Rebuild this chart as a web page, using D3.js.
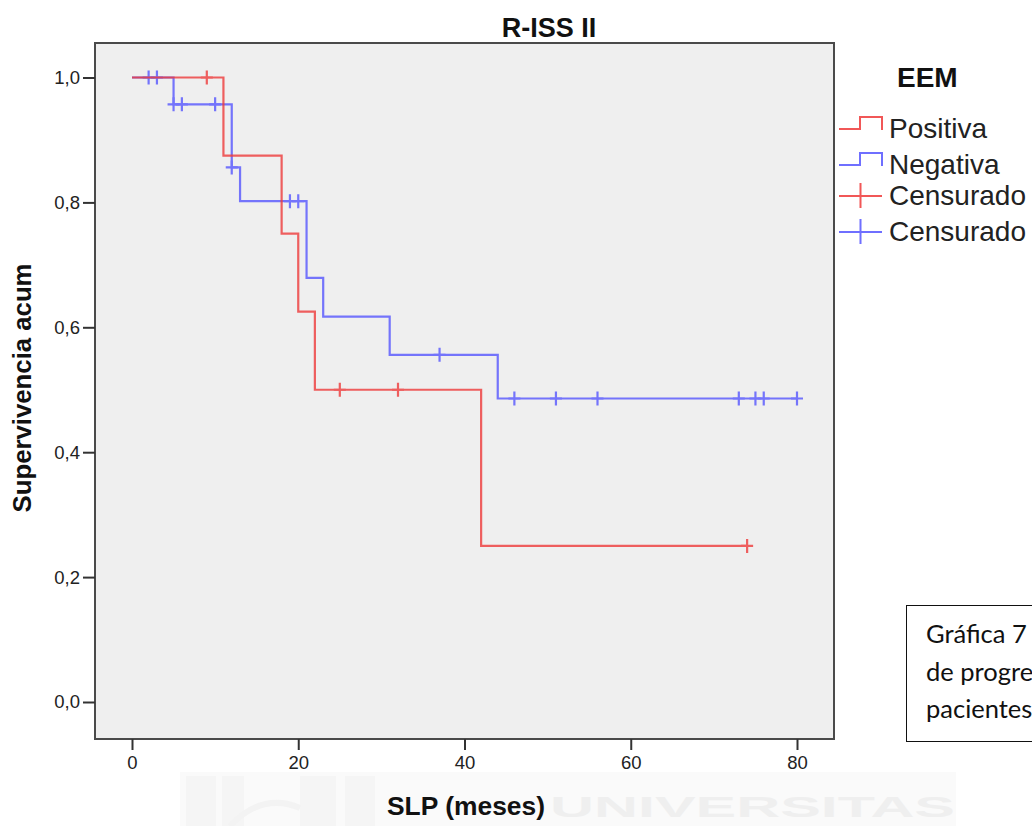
<!DOCTYPE html>
<html>
<head>
<meta charset="utf-8">
<script src="https://cdn.jsdelivr.net/npm/d3@7"></script>
<style>
  html, body { margin: 0; padding: 0; background: #ffffff; }
  svg { display: block; }
</style>
</head>
<body>
<svg id="chart" width="1032" height="826"></svg>
<script>
// Kaplan–Meier curves: progression-free survival (months) by EEM status, R-ISS II
const title = "R-ISS II";
const xLabel = "SLP (meses)";
const yLabel = "Supervivencia acum";
const legendTitle = "EEM";
const groupNames = ["Positiva", "Negativa"];
const censorLabel = "Censurado";

// step points: [time, cumulative survival after the event]
const positivaTimes = [0, 11, 18, 20, 22, 42];
const positivaSurv  = [1.0, 0.875, 0.75, 0.625, 0.5, 0.25];
const positivaEnd = 74;
const positivaCensored = [9, 25, 32, 74];

const negativaTimes = [0, 5, 12, 13, 21, 23, 31, 44];
const negativaSurv  = [1.0, 0.957, 0.856, 0.802, 0.679, 0.617, 0.556, 0.486];
const negativaEnd = 80;
const negativaCensored = [2, 3, 5, 6, 10, 12, 19, 20, 37, 46, 51, 56, 73, 75, 76, 80];

const xTicks = [0, 20, 40, 60, 80];
const yTicks = [0, 0.2, 0.4, 0.6, 0.8, 1.0];

const noteLines = ["Gráfica 7", "de progre", "pacientes"];
const watermarkText = "UNIVERSITAS";

const colors = ["#ee3a3a", "#5656ff"];

const svg = d3.select("#chart");
const font = "'Liberation Sans', Arial, sans-serif";

// frame of the plot
const frame = { left: 95, top: 43, right: 834, bottom: 739 };
const x = d3.scaleLinear().domain([0, 80]).range([132, 797]);
const y = d3.scaleLinear().domain([0, 1]).range([702, 77.5]);

// faint watermark behind the lower area
const wm = svg.append("g").attr("class", "watermark");
wm.append("rect").attr("x", 180).attr("y", 772).attr("width", 776).attr("height", 60).attr("fill", "#fafafa");
[[186, 30], [222, 22], [300, 36], [345, 30]].forEach(([px, w]) =>
  wm.append("rect").attr("x", px).attr("y", 776).attr("width", w).attr("height", 56).attr("fill", "#f5f5f5"));
wm.append("path").attr("d", "M230,826 Q262,792 300,808").attr("fill", "none").attr("stroke", "#f3f3f3").attr("stroke-width", 6);
wm.append("text").attr("x", 550).attr("y", 817).attr("font-family", font).attr("font-weight", "bold")
  .attr("font-size", 30).attr("fill", "#efefef").attr("textLength", 405).attr("lengthAdjust", "spacingAndGlyphs")
  .text(watermarkText);

// plot background and border
svg.append("rect")
  .attr("x", frame.left).attr("y", frame.top)
  .attr("width", frame.right - frame.left).attr("height", frame.bottom - frame.top)
  .attr("fill", "#efefef").attr("stroke", "#4a4a4a").attr("stroke-width", 2);

// axes
const fmt = d => d3.format(".1f")(d).replace(".", ",");
const yAxis = svg.append("g").attr("transform", `translate(${frame.left},0)`)
  .call(d3.axisLeft(y).tickValues(yTicks).tickFormat(fmt).tickSize(12).tickPadding(3));
const xAxis = svg.append("g").attr("transform", `translate(0,${frame.bottom})`)
  .call(d3.axisBottom(x).tickValues(xTicks).tickFormat(d3.format("d")).tickSize(11).tickPadding(6));
[yAxis, xAxis].forEach(a => {
  a.select(".domain").remove();
  a.selectAll(".tick line").attr("stroke", "#333").attr("stroke-width", 2);
  a.selectAll(".tick text").attr("font-family", font).attr("font-size", 18.5).attr("fill", "#222");
});

// Kaplan–Meier step curves
function stepPath(times, surv, end) {
  const pts = [];
  times.forEach((t, i) => {
    if (i > 0) pts.push([t, surv[i - 1]]);
    pts.push([t, surv[i]]);
  });
  pts.push([end, surv[surv.length - 1]]);
  return d3.line().x(d => x(d[0])).y(d => y(d[1]))(pts);
}
function survAt(times, surv, t) {
  let v = surv[0];
  times.forEach((tt, i) => { if (tt <= t) v = surv[i]; });
  return v;
}
const groups = [
  { times: negativaTimes, surv: negativaSurv, end: negativaEnd, cens: negativaCensored, color: colors[1] },
  { times: positivaTimes, surv: positivaSurv, end: positivaEnd, cens: positivaCensored, color: colors[0] }
];
groups.forEach(g => {
  const gg = svg.append("g").attr("opacity", 0.8);
  gg.append("path").attr("d", stepPath(g.times, g.surv, g.end))
    .attr("fill", "none").attr("stroke", g.color).attr("stroke-width", 2.2);
  g.cens.forEach(t => {
    const cx = x(t), cy = y(survAt(g.times, g.surv, t));
    gg.append("path").attr("d", `M${cx - 6},${cy}H${cx + 6}M${cx},${cy - 7}V${cy + 7}`)
      .attr("stroke", g.color).attr("stroke-width", 2.2).attr("fill", "none");
  });
});

// titles
svg.append("text").attr("x", 549).attr("y", 37).attr("text-anchor", "middle")
  .attr("font-family", font).attr("font-weight", "bold").attr("font-size", 27)
  .attr("fill", "#111").text(title);
svg.append("text").attr("x", 466).attr("y", 815).attr("text-anchor", "middle")
  .attr("font-family", font).attr("font-weight", "bold").attr("font-size", 25)
  .attr("textLength", 158).attr("lengthAdjust", "spacingAndGlyphs")
  .attr("fill", "#111").text(xLabel);
svg.append("text").attr("transform", "translate(31,388) rotate(-90)").attr("text-anchor", "middle")
  .attr("font-family", font).attr("font-weight", "bold").attr("font-size", 25)
  .attr("textLength", 249).attr("lengthAdjust", "spacingAndGlyphs")
  .attr("fill", "#111").text(yLabel);

// legend
const lg = svg.append("g");
lg.append("text").attr("x", 897).attr("y", 87).attr("font-family", font).attr("font-weight", "bold")
  .attr("font-size", 28).attr("fill", "#111").text(legendTitle);
const rows = [
  { label: groupNames[0], color: colors[0], kind: "step", y: 129 },
  { label: groupNames[1], color: colors[1], kind: "step", y: 165 },
  { label: censorLabel, color: colors[0], kind: "cens", y: 196 },
  { label: censorLabel, color: colors[1], kind: "cens", y: 232 }
];
rows.forEach(r => {
  const d = r.kind === "step"
    ? `M839,${r.y}H860V${r.y - 12}H882V${r.y + 1}`
    : `M839,${r.y}H882M860.5,${r.y - 13}V${r.y + 12}`;
  lg.append("path").attr("d", d).attr("fill", "none").attr("stroke", r.color)
    .attr("stroke-width", 2).attr("opacity", 0.85);
  lg.append("text").attr("x", 889).attr("y", r.y + 9).attr("font-family", font)
    .attr("font-size", 28).attr("fill", "#222").text(r.label);
});

// caption box at the right edge
const nb = svg.append("g");
nb.append("rect").attr("x", 906.5).attr("y", 605.5).attr("width", 200).attr("height", 136)
  .attr("fill", "#ffffff").attr("stroke", "#111").attr("stroke-width", 1);
noteLines.forEach((s, i) => {
  nb.append("text").attr("x", 926).attr("y", 643 + i * 37.5)
    .attr("font-family", "Lato, 'Open Sans', sans-serif").attr("font-size", 25.5)
    .attr("fill", "#111").text(s);
});
</script>
</body>
</html>
